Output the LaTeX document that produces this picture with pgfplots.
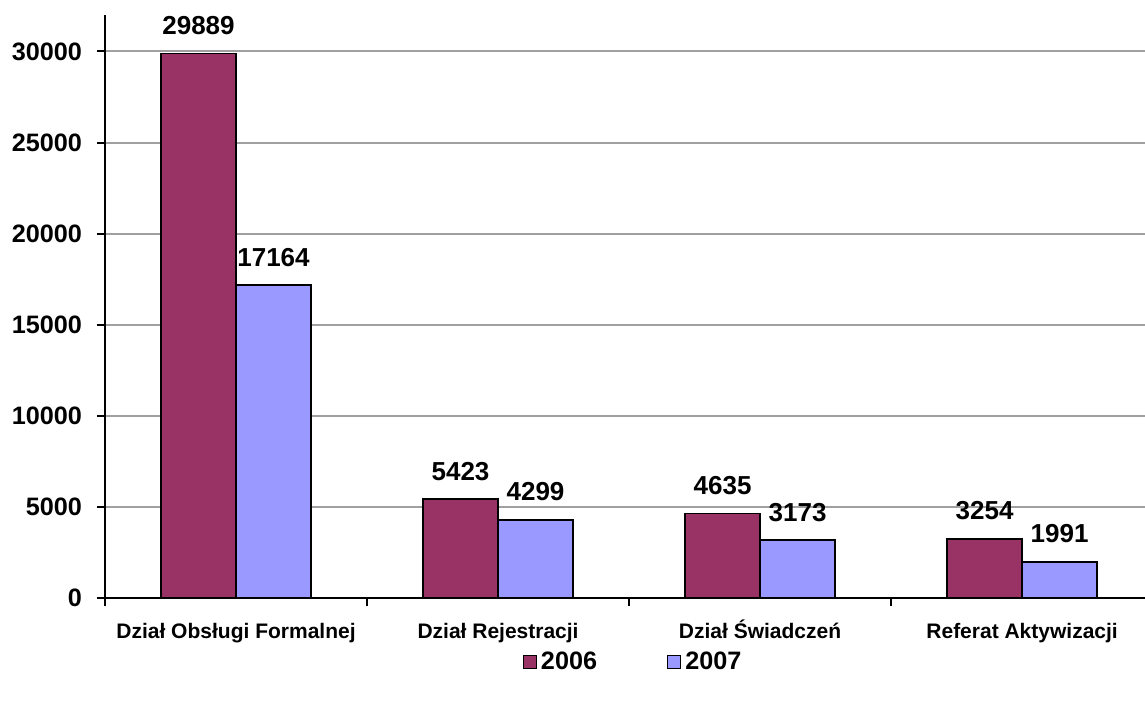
\documentclass[border=0pt]{standalone}
\usepackage{fontspec}
\setmainfont{Liberation Sans}
\usepackage{pgfplots}
\pgfplotsset{compat=1.18}
\definecolor{c2006}{RGB}{153,51,102}
\definecolor{c2007}{RGB}{153,153,255}
\definecolor{gridc}{RGB}{160,160,160}

\begin{document}
\begin{tikzpicture}
\begin{axis}[
    scale only axis,
    width=520pt, height=291.5pt,
    xmin=-0.5, xmax=3.469,
    ymin=0, ymax=32000,
    ybar=0pt, bar width=37.5pt,
    axis lines=left,
    axis line style={-, line width=1pt},
    tick align=outside,
    major tick length=4pt,
    tick style={black, line width=1pt},
    ytick={0,5000,...,30000},
    scaled y ticks=false,
    ymajorgrids,
    grid style={gridc, line width=1pt},
    xtick={-0.5,0.5,1.5,2.5},
    xticklabels={},
    extra x ticks={0,1,2,3},
    extra x tick labels={Dział Obsługi Formalnej, Dział Rejestracji, Dział Świadczeń, Referat Aktywizacji},
    extra x tick style={major tick length=0pt, tick style={draw=none}},
    xticklabel style={font=\fontsize{10.5}{12}\selectfont\bfseries, anchor=base, yshift=-20pt},
    yticklabel style={font=\fontsize{12.6}{15}\selectfont\bfseries, xshift=-4pt},
    /pgf/number format/assume math mode=true,
    /pgf/number format/1000 sep={},
    nodes near coords,
    nodes near coords style={font=\fontsize{13}{15}\selectfont\bfseries, black, anchor=south, inner sep=0pt, yshift=9pt},
    legend style={at={(0.5087,-0.11)}, anchor=center, draw=none, legend columns=2,
        font=\fontsize{12.6}{15}\selectfont\bfseries,
        /tikz/every even column/.append style={column sep=33pt}},
]
\addplot [fill=c2006, draw=black, line width=0.9pt,
    legend image code/.code={\draw[fill=c2006, draw=black, line width=0.7pt] (0pt,-3.25pt) rectangle (6.5pt,3.25pt);}]
    coordinates {(0,29889) (1,5423) (2,4635) (3,3254)};
\addlegendentry{2006}
\addplot [fill=c2007, draw=black, line width=0.9pt,
    legend image code/.code={\draw[fill=c2007, draw=black, line width=0.7pt] (0pt,-3.25pt) rectangle (6.5pt,3.25pt);}]
    coordinates {(0,17164) (1,4299) (2,3173) (3,1991)};
\addlegendentry{2007}
\end{axis}
\pgfresetboundingbox
\path[use as bounding box] (-52.5pt,-52pt) rectangle (520pt,299pt);
\end{tikzpicture}
\end{document}
